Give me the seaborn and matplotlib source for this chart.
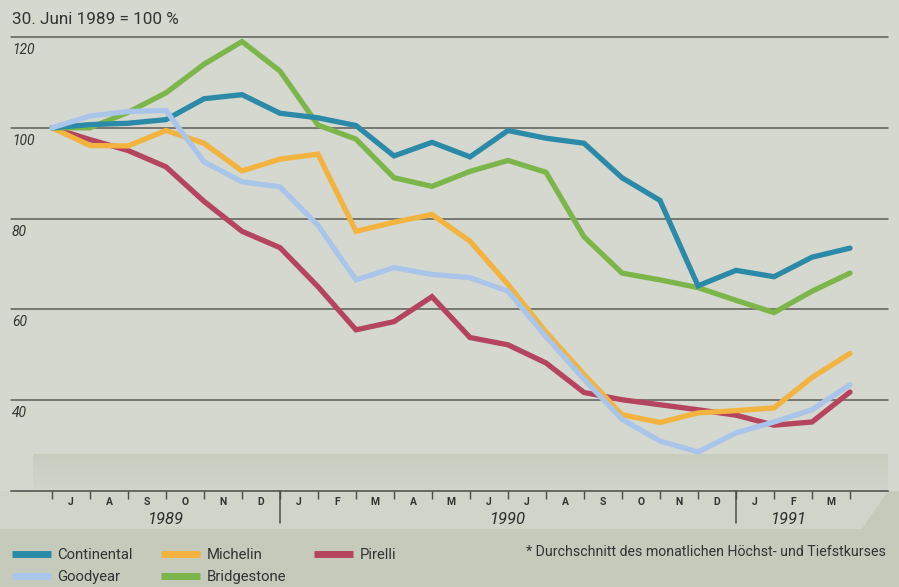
import numpy as np
import pandas as pd
import seaborn as sns
import matplotlib.pyplot as plt
from matplotlib.patches import Polygon
from matplotlib.lines import Line2D
from matplotlib.colors import LinearSegmentedColormap

# ---------------- data (index 0 = 30. Juni 1989 = 100) ----------------
month_labels = ["J", "A", "S", "O", "N", "D",
                "J", "F", "M", "A", "M", "J", "J", "A", "S", "O", "N", "D",
                "J", "F", "M"]
years = ["1989", "1990", "1991"]
year_pos = [3, 12, 19.4]
year_dividers = [6, 18]
yticks = [40, 60, 80, 100, 120]

continental = [100, 100.7, 101, 101.8, 106.4, 107.3, 103.2, 102.2, 100.5, 93.8, 96.8,
               93.6, 99.4, 97.7, 96.6, 89, 84, 65.2, 68.6, 67.2, 71.5, 73.5]
bridgestone = [100, 100, 103.4, 107.7, 114, 119, 112.5, 100.6, 97.5, 89, 87.1,
               90.4, 92.8, 90.2, 76, 68, 66.5, 64.8, 62, 59.3, 64, 68]
michelin = [100, 96.1, 96, 99.4, 96.6, 90.5, 93.1, 94.2, 77.2, 79.2, 80.9,
            75, 65.5, 55, 45.7, 36.8, 35.1, 37.2, 37.7, 38.3, 45, 50.3]
goodyear = [100, 102.6, 103.6, 103.8, 92.5, 88.1, 87, 78.5, 66.5, 69.2, 67.7,
            67, 64, 54, 44.6, 35.8, 31, 28.6, 32.8, 35.2, 37.9, 43.4]
pirelli = [100, 97.4, 95, 91.4, 83.8, 77.2, 73.6, 65, 55.5, 57.3, 62.8,
           53.8, 52.2, 48.2, 41.7, 40.1, 39, 37.9, 36.7, 34.5, 35.2, 41.8]

series = {
    "Continental": continental,
    "Michelin": michelin,
    "Pirelli": pirelli,
    "Goodyear": goodyear,
    "Bridgestone": bridgestone,
}
colors = {
    "Continental": "#2b8aa8",
    "Michelin": "#f2b33f",
    "Pirelli": "#b5445f",
    "Goodyear": "#a9c5ea",
    "Bridgestone": "#7cb54a",
}
draw_order = ["Pirelli", "Michelin", "Bridgestone", "Continental", "Goodyear"]

rows = []
for name, vals in series.items():
    for i, v in enumerate(vals):
        rows.append({"idx": i, "value": v, "company": name})
df = pd.DataFrame(rows)

# ---------------- style ----------------
sns.set_theme(style="white")
plt.rcParams["font.family"] = ["Roboto", "DejaVu Sans"]

W, H = 899, 587
fig = plt.figure(figsize=(W / 100, H / 100), dpi=100)
fig.patch.set_facecolor("#c6cabb")

def fx(px):
    return px / W

def fy(py):
    return 1 - py / H

# upper background panel (behind the plot)
fig.patches.append(Polygon([(0, fy(0)), (1, fy(0)), (1, fy(491)), (0, fy(491))],
                           closed=True, transform=fig.transFigure,
                           facecolor="#d5d8ce", edgecolor="none", zorder=-3))
# axis band with slanted right end
fig.patches.append(Polygon([(0, fy(491)), (fx(888), fy(491)), (fx(862), fy(529)), (0, fy(529))],
                           closed=True, transform=fig.transFigure,
                           facecolor="#d1d4c8", edgecolor="none", zorder=-2))

ax = fig.add_axes([fx(11), fy(491), fx(877), 454 / H])
ax.set_facecolor("none")
xmin, xmax = (11 - 52) / 38, (888 - 52) / 38
ax.set_xlim(xmin, xmax)
ax.set_ylim(20, 120)

# subtle darker gradient strip near the bottom of the plot
cmap = LinearSegmentedColormap.from_list("strip", ["#d2d5ca", "#c9cdc0"])
grad = np.linspace(0, 1, 50).reshape(-1, 1)
ax.imshow(grad, extent=((33 - 52) / 38, xmax, 20, 28), origin="lower",
          aspect="auto", cmap=cmap, zorder=0, interpolation="bilinear")
ax.set_xlim(xmin, xmax)
ax.set_ylim(20, 120)

for v in yticks:
    ax.axhline(v, color="#5c5e57", lw=1.1, zorder=1, clip_on=False)
    ax.text((12 - 52) / 38, v - 1.3, str(v), ha="left", va="top", fontsize=10,
            style="italic", color="#333333")

for z, name in enumerate(draw_order):
    sub = df[df["company"] == name]
    sns.lineplot(data=sub, x="idx", y="value", color=colors[name], lw=3.8,
                 ax=ax, legend=False, zorder=3 + z, solid_joinstyle="miter")

for s in ["left", "right", "top"]:
    ax.spines[s].set_visible(False)
ax.spines["bottom"].set_color("#4a4c46")
ax.spines["bottom"].set_linewidth(1.1)

ax.set_yticks([])
ax.set_xlabel("")
ax.set_ylabel("")
ax.set_xticks(range(len(continental)))
ax.set_xticklabels([])
ax.tick_params(axis="x", which="major", direction="out", length=6, width=1,
               color="#4a4c46", bottom=True)
ax.set_xticks(np.arange(len(month_labels)) + 0.5, month_labels, minor=True)
ax.tick_params(axis="x", which="minor", length=0, pad=4, labelsize=7.5,
               labelcolor="#333333")
for lab in ax.get_xticklabels(minor=True):
    lab.set_fontweight("bold")

trans = ax.get_xaxis_transform()
for d in year_dividers:
    ax.plot([d, d], [0, -32 / 454], transform=trans, color="#4a4c46", lw=1.1,
            clip_on=False)
for yr, p in zip(years, year_pos):
    ax.text(p, -28 / 454, yr, transform=trans, ha="center", va="center",
            fontsize=12, style="italic", color="#2e2e2e")

fig.text(fx(12), fy(19), "30. Juni 1989 = 100 %", ha="left", va="center",
         fontsize=12.3, color="#333333")

legend_order = ["Continental", "Goodyear", "Michelin", "Bridgestone", "Pirelli"]
handles = [Line2D([0], [0], color=colors[n], lw=5, solid_capstyle="butt")
           for n in legend_order]
fig.legend(handles, legend_order, ncol=3, loc="upper left",
           bbox_to_anchor=(fx(12), fy(548)), frameon=False, fontsize=10.7,
           handlelength=2.6, handletextpad=0.45, columnspacing=1.9,
           labelspacing=0.55, borderpad=0, borderaxespad=0,
           labelcolor="#333333")

fig.text(fx(886), fy(552), "* Durchschnitt des monatlichen Höchst- und Tiefstkurses",
         ha="right", va="center", fontsize=10.2, color="#333333")

fig.savefig("out.png", dpi=100, facecolor=fig.get_facecolor())
